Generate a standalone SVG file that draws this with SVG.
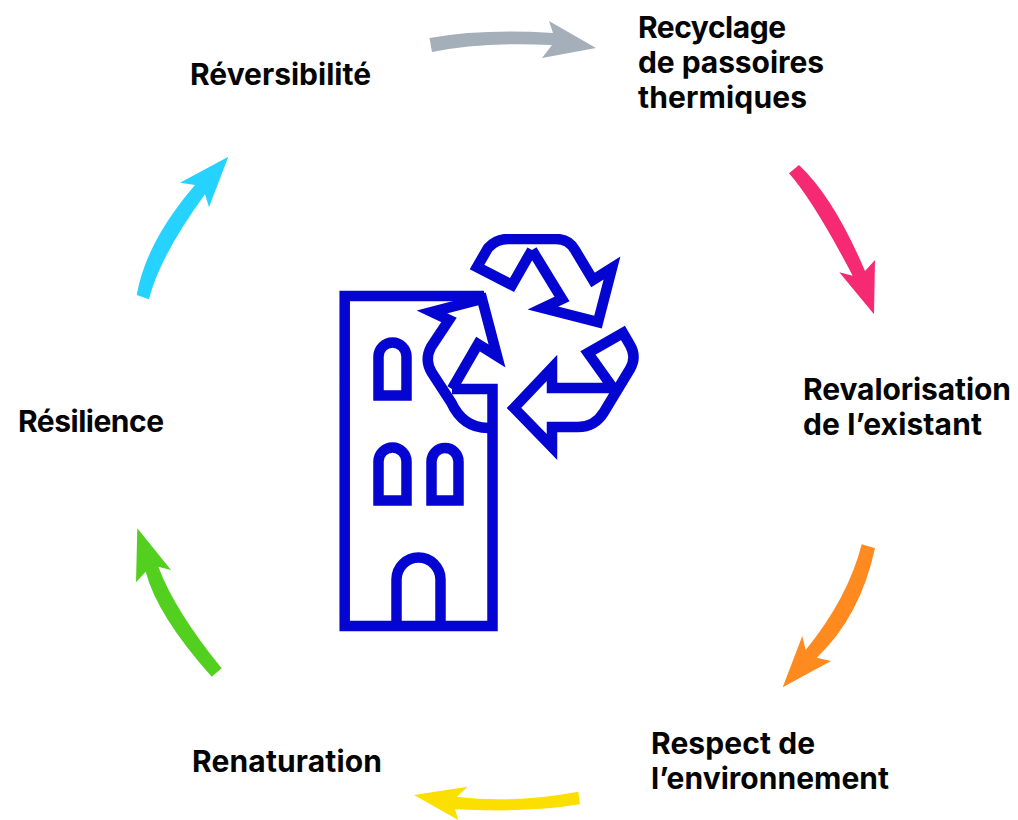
<svg xmlns="http://www.w3.org/2000/svg" width="1018" height="820" viewBox="0 0 1018 820">
<style>
.t{font-family:"Inter","Liberation Sans",sans-serif;font-weight:700;font-size:30px;fill:#050505}
.i{fill:none;stroke:#0505d2;stroke-width:10.500;stroke-linejoin:miter;stroke-miterlimit:10}
</style>
<rect width="1018" height="820" fill="#fff"/>
<defs><clipPath id="c"><rect x="330" y="234" width="320" height="410"/></clipPath></defs>
<g id="connectors">
<path fill="#a5afba" d="M429.500 38Q483 28.500 553 33L549 21L596 48L542 58L552 45Q482 41.500 432 52Z"/>
<path fill="#f52a72" d="M799 165Q834 198 865 271L875 260L874 314.300L839.300 272.300L852.700 275.700Q813.500 201 789 173.300Z"/>
<path fill="#ff8a1f" d="M875 548.300Q860 617 816.700 657.700L831 661L782.700 687.300L802.300 636L805.700 650Q848 598 861.700 544.300Z"/>
<path fill="#fbdf00" d="M580 804.300Q526 813 455 809.300L458.300 820L414 795L467.700 786.700L456.700 796.700Q512.500 803.800 578.300 791.700Z"/>
<path fill="#52cf1f" d="M211.700 676.700Q157.300 615.800 145.700 571.700L136 582.300L137.300 528.300L171 570L158.300 566.700Q175 611 221.700 668.300Z"/>
<path fill="#26d2ff" d="M149 299.300Q159.600 256.600 205 194.300L209 207.300L228.300 156.700L180 182.700L195 185Q146 242 136.700 295Z"/>
</g>
<g id="icon" clip-path="url(#c)">
<path class="i" d="M452 389H492.500V626H344.700V296H484"/>
<path class="i" d="M452 389L478 344L497 356L482 299L432 312L449 320L431 347Q424 360 432 373L451 402Q463 428 488 428"/>
<path class="i" d="M532 250L512 285L477 267L488 248Q496 239 508 239H556Q569 239 575 250L593 280L612 268L598 322L543 308L562 299L532 250"/>
<path class="i" d="M613 388L588 353L623 333L630 345Q637 357 630 369L604 412Q595 427 578 427H552V447L514 408L552 368V388H613"/>
<path class="i" d="M378.500 395.500V356.500A14 14 0 0 1 406.500 356.500V395.500Z"/>
<path class="i" d="M378.500 500.500V461.500A14 14 0 0 1 406.500 461.500V500.500Z"/>
<path class="i" d="M431.500 500.500V461.500A13.500 13.500 0 0 1 458.500 461.500V500.500Z"/>
<path class="i" d="M396.500 626V579.500A22 22 0 0 1 440.500 579.500V626"/>
</g>
<g id="node-reversibilite"><text class="t" x="190" y="85" textLength="181">Réversibilité</text></g>
<g id="node-recyclage"><text class="t" x="638" y="38" textLength="148">Recyclage</text><text class="t" x="638" y="73" textLength="186">de passoires</text><text class="t" x="638" y="108" textLength="169">thermiques</text></g>
<g id="node-revalorisation"><text class="t" x="803" y="400" textLength="208">Revalorisation</text><text class="t" x="803" y="435" textLength="179">de l’existant</text></g>
<g id="node-respect"><text class="t" x="651" y="754" textLength="164">Respect de</text><text class="t" x="651" y="789" textLength="238">l’environnement</text></g>
<g id="node-renaturation"><text class="t" x="192" y="772" textLength="190">Renaturation</text></g>
<g id="node-resilience"><text class="t" x="18" y="432" textLength="146">Résilience</text></g>
</svg>
